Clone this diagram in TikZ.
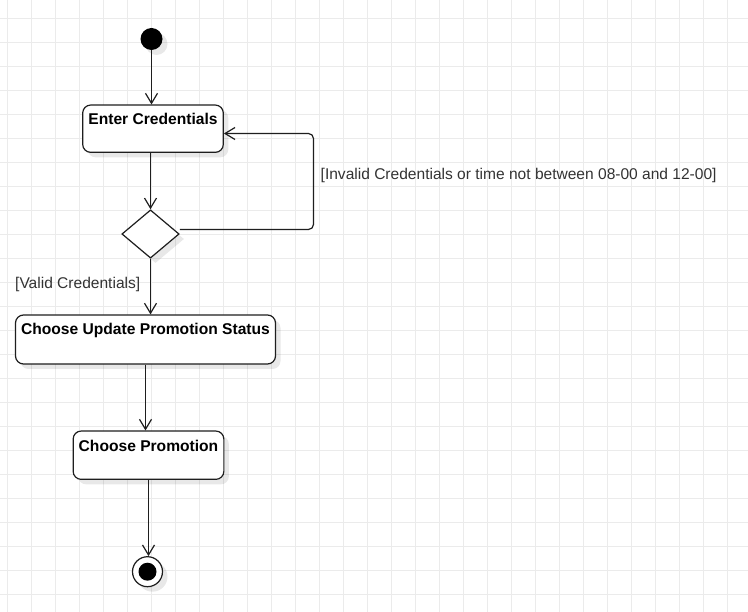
\documentclass[tikz,border=0pt]{standalone}
\usepackage{fontspec}
\setmainfont{Liberation Sans}
\usetikzlibrary{arrows.meta,shapes.geometric,shadows}
\definecolor{gridc}{HTML}{EBEBEB}
\definecolor{linec}{HTML}{1E1E1E}
\definecolor{labc}{HTML}{333333}
\begin{document}
\begin{tikzpicture}[x=1pt,y=-1pt,
  shad/.style={drop shadow={shadow xshift=5pt,shadow yshift=-5pt,fill=black,opacity=0.09}},
  action/.style={draw=linec,line width=1.2pt,rounded corners=8pt,fill=white,inner sep=0pt,shad},
  acttext/.style={font=\bfseries\fontsize{15.6}{18}\selectfont,text=black,anchor=base,inner sep=0pt},
  guard/.style={font=\fontsize{15.55}{18}\selectfont,text=labc,anchor=west,inner sep=0pt},
  decision/.style={diamond,draw=linec,line width=1.2pt,fill=white,inner sep=0pt,shad},
  flow/.style={draw=linec,line width=1.2pt,-{Straight Barb[length=10pt,width=12pt,line width=1.2pt]}},
  startnode/.style={circle,fill=black,inner sep=0pt,minimum size=22pt,shad},
  endnode/.style={circle,draw=linec,line width=1.2pt,fill=white,inner sep=0pt,minimum size=30pt,shad}
]
\fill[white] (0,0) rectangle (748,612);
\useasboundingbox (0,0) rectangle (748,612);
\foreach \i in {0,...,30} \draw[gridc,line width=1pt] ({7.5+24*\i},0) -- ({7.5+24*\i},612);
\foreach \j in {0,...,24} \draw[gridc,line width=1pt] (0,{18.3+24*\j}) -- (748,{18.3+24*\j});

\node[startnode] (start) at (151.5,39) {};
\node[action,minimum width=140.6pt,minimum height=47.3pt] (ec) at (153,128.7) {};
\node[acttext] (ect) at ([yshift=-20pt]ec.north) {Enter Credentials};
\node[decision,minimum width=57.3pt,minimum height=48.3pt] (dec) at (150.5,234) {};
\node[action,minimum width=260pt,minimum height=49pt] (cu) at (145.5,339.5) {};
\node[acttext] (cut) at ([yshift=-20.5pt]cu.north) {Choose Update Promotion Status};
\node[action,minimum width=150.7pt,minimum height=48.3pt] (cp) at (148.5,455.2) {};
\node[acttext] (cpt) at ([yshift=-21pt]cp.north) {Choose Promotion};
\node[endnode] (end) at (147.5,571.7) {};
\fill[black] (end.center) circle (9pt);

\coordinate (c1) at (313.5,229.5);
\coordinate (c2) at (313.5,133.5);

\draw[flow] (start.south) -- (start.south |- ec.north);
\draw[flow] (ec.south -| dec.north) -- (dec.north);
\draw[flow,rounded corners=5pt] (dec.east |- c1) -- (c1) -- (c2) -- (ec.east |- c2);
\draw[flow] (dec.south) -- (dec.south |- cu.north);
\draw[flow] (cu.south) -- (cu.south |- cp.north);
\draw[flow] (cp.south) -- (cp.south |- end.north);

\node[guard] (g1) at (320.5,175.5) {[Invalid Credentials or time not between 08-00 and 12-00]};
\node[guard] (g2) at (15,284) {[Valid Credentials]};
\end{tikzpicture}
\end{document}
